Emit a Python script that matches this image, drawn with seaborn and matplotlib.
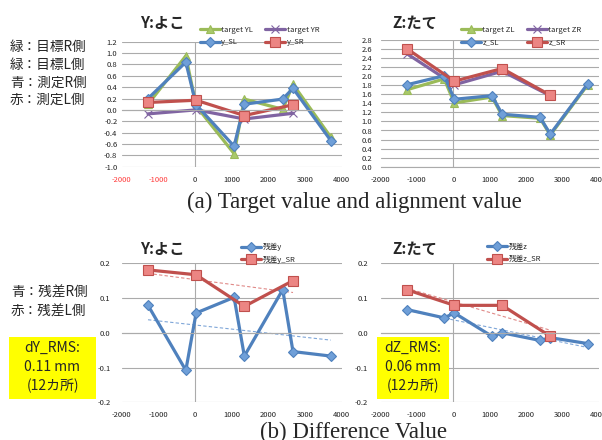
import matplotlib
matplotlib.use('Agg')
import matplotlib.pyplot as plt
from matplotlib.patches import Rectangle
import seaborn as sns

# positions along the rail (mm), L side = all 8 points, R side = every other one
x_L = [-1280, -250, 30, 1065, 1345, 2390, 2670, 3700]
x_R = [-1280, 30, 1345, 2670]

# Y (よこ) target / measured
target_YL = [0.10, 0.95, 0.07, -0.77, 0.19, 0.01, 0.45, -0.48]
y_SL = [0.20, 0.84, 0.09, -0.64, 0.10, 0.19, 0.38, -0.54]
target_YR = [-0.07, 0.00, -0.16, -0.06]
y_SR = [0.13, 0.17, -0.10, 0.09]

# Z (たて) target / measured
target_ZL = [1.70, 1.94, 1.41, 1.54, 1.13, 1.07, 0.70, 1.81]
z_SL = [1.81, 2.01, 1.49, 1.57, 1.16, 1.09, 0.72, 1.83]
target_ZR = [2.50, 1.81, 2.11, 1.57]
z_SR = [2.61, 1.89, 2.17, 1.58]

# residuals
res_y = [0.079, -0.108, 0.057, 0.102, -0.067, 0.124, -0.054, -0.067]
res_y_SR = [0.181, 0.167, 0.076, 0.150]
res_z = [0.067, 0.043, 0.057, -0.010, 0.000, -0.022, -0.014, -0.031]
res_z_SR = [0.124, 0.079, 0.079, -0.010]

x_ticks = [-2000, -1000, 0, 1000, 2000, 3000, 4000]
yticks_y = [-1.0, -0.8, -0.6, -0.4, -0.2, 0.0, 0.2, 0.4, 0.6, 0.8, 1.0, 1.2]
yticks_z = [0.0, 0.2, 0.4, 0.6, 0.8, 1.0, 1.2, 1.4, 1.6, 1.8, 2.0, 2.2, 2.4, 2.6, 2.8]
yticks_res = [-0.2, -0.1, 0.0, 0.1, 0.2]

GREEN = '#9bbb59'
PURPLE = '#8064a2'
BLUE = '#4f81bd'
RED = '#c0504d'
GRID = '#ababab'

sns.set_style('white')
plt.rcParams['font.family'] = ['Noto Sans CJK JP', 'DejaVu Sans']

W, H = 602, 440
fig = plt.figure(figsize=(W / 100, H / 100), dpi=100)


def fx(px):
    return px / W


def fy(py):
    return 1 - py / H


def make_axes(left, right, top, bottom):
    return fig.add_axes([fx(left), fy(bottom), fx(right) - fx(left), fy(top) - fy(bottom)])


def style(ax, ylim, yticks, fmt, ypad, xpad, red_neg=False):
    ax.set_xlim(-2000, 4000)
    ax.set_ylim(*ylim)
    ax.set_yticks(yticks)
    ax.set_yticklabels([fmt.format(v) for v in yticks])
    ax.set_xticks(x_ticks)
    ax.grid(axis='y', color=GRID, lw=0.8)
    ax.grid(axis='x', visible=False)
    ax.set_axisbelow(True)
    for s in ['top', 'right', 'left']:
        ax.spines[s].set_visible(False)
    ax.spines['bottom'].set_position(('data', 0))
    ax.spines['bottom'].set_color(GRID)
    ax.spines['bottom'].set_linewidth(0.8)
    ax.axvline(0, color=GRID, lw=0.8, zorder=1)
    ax.tick_params(axis='x', length=3, width=0.8, direction='out', color=GRID, labelbottom=False)
    ax.tick_params(axis='y', length=0, pad=ypad, labelsize=5.5, labelcolor='#222222')
    ax.set_xlabel('')
    ax.set_ylabel('')
    sec = ax.secondary_xaxis('bottom')
    sec.set_xticks(x_ticks, [str(t) for t in x_ticks])
    sec.tick_params(length=0, pad=xpad, labelsize=5.5, labelcolor='#222222')
    sec.spines['bottom'].set_visible(False)
    if red_neg:
        for t, lbl in zip(x_ticks, sec.get_xticklabels()):
            if t < 0:
                lbl.set_color('#ff3b3b')


def line(ax, x, y, color, marker, face, label, ms=6, lw=2.3):
    sns.lineplot(x=x, y=y, ax=ax, color=color, lw=lw, marker=marker, markersize=ms,
                 markerfacecolor=face, markeredgecolor=color, markeredgewidth=0.8,
                 label=label, legend=False)


def legend(ax, order, px, py, ncol):
    h, l = ax.get_legend_handles_labels()
    ax.legend([h[i] for i in order], [l[i] for i in order], ncol=ncol, loc='upper left',
              bbox_to_anchor=(fx(px), fy(py)), bbox_transform=fig.transFigure,
              frameon=False, fontsize=5.5, handlelength=2.6, handletextpad=0.2,
              columnspacing=1.6, borderpad=0, borderaxespad=0, labelspacing=0.55)


# (a) Y
ax1 = make_axes(121.6, 341.8, 41.7, 166.7)
line(ax1, x_L, target_YL, GREEN, '^', '#a9c96a', 'target YL')
line(ax1, x_R, target_YR, PURPLE, 'x', PURPLE, 'target YR')
line(ax1, x_L, y_SL, BLUE, 'D', '#6f9fd8', 'y_SL', ms=5)
line(ax1, x_R, y_SR, RED, 's', '#ec8583', 'y_SR', ms=6.5)
style(ax1, (-1.0, 1.2), yticks_y, '{:.1f}', 3, 7, red_neg=True)
legend(ax1, [0, 2, 1, 3], 200, 26, 2)

# (a) Z
ax2 = make_axes(380.6, 598.6, 40.0, 166.7)
line(ax2, x_L, target_ZL, GREEN, '^', '#a9c96a', 'target ZL')
line(ax2, x_R, target_ZR, PURPLE, 'x', PURPLE, 'target ZR')
line(ax2, x_L, z_SL, BLUE, 'D', '#6f9fd8', 'z_SL', ms=5)
line(ax2, x_R, z_SR, RED, 's', '#ec8583', 'z_SR', ms=6.5)
style(ax2, (0.0, 2.8), yticks_z, '{:.1f}', 6, 7)
legend(ax2, [0, 2, 1, 3], 461, 26, 2)

# (b) residual Y
ax3 = make_axes(121.6, 341.8, 263.3, 402.3)
sns.regplot(x=x_L, y=res_y, ax=ax3, scatter=False, ci=None, truncate=True,
            line_kws=dict(color='#7fa6d8', lw=0.8, ls=(0, (3, 2))))
sns.regplot(x=x_R, y=res_y_SR, ax=ax3, scatter=False, ci=None, truncate=True,
            line_kws=dict(color='#e08a88', lw=0.8, ls=(0, (3, 2))))
line(ax3, x_L, res_y, BLUE, 'D', '#6f9fd8', '残差y', ms=5)
line(ax3, x_R, res_y_SR, RED, 's', '#ec8583', '残差y_SR', ms=6.5)
style(ax3, (-0.2, 0.2), yticks_res, '{:.1f}', 8, 6)
legend(ax3, [0, 1], 241, 243, 1)

# (b) residual Z
ax4 = make_axes(380.6, 598.6, 263.3, 402.3)
sns.regplot(x=x_L, y=res_z, ax=ax4, scatter=False, ci=None, truncate=True,
            line_kws=dict(color='#7fa6d8', lw=0.8, ls=(0, (3, 2))))
sns.regplot(x=x_R, y=res_z_SR, ax=ax4, scatter=False, ci=None, truncate=True,
            line_kws=dict(color='#e08a88', lw=0.8, ls=(0, (3, 2))))
line(ax4, x_L, res_z, BLUE, 'D', '#6f9fd8', '残差z', ms=5)
line(ax4, x_R, res_z_SR, RED, 's', '#ec8583', '残差z_SR', ms=6.5)
style(ax4, (-0.2, 0.2), yticks_res, '{:.1f}', 9, 6)
legend(ax4, [0, 1], 487, 243, 1)

# titles
for cx, cy, t in [(162, 23, 'Y:よこ'), (415, 23, 'Z:たて'), (162, 249, 'Y:よこ'), (415, 249, 'Z:たて')]:
    fig.text(fx(cx), fy(cy), t, ha='center', va='center', fontsize=11, fontweight='bold')

# side notes
for i, t in enumerate(['緑：目標R側', '緑：目標L側', '青：測定R側', '赤：測定L側']):
    fig.text(fx(10), fy(47 + 17.7 * i), t, ha='left', va='center', fontsize=9.8)
for i, t in enumerate(['青：残差R側', '赤：残差L側']):
    fig.text(fx(11), fy(293 + 19 * i), t, ha='left', va='center', fontsize=9.8)

# RMS boxes
for left, right, cx, lines in [(9, 96, 52.5, ['dY_RMS:', '0.11 mm', '(12カ所)']),
                               (377, 449, 413, ['dZ_RMS:', '0.06 mm', '(12カ所)'])]:
    fig.patches.append(Rectangle((fx(left), fy(399)), fx(right) - fx(left), fy(337) - fy(399),
                                 transform=fig.transFigure, facecolor='#ffff00', edgecolor='none'))
    for j, t in enumerate(lines):
        fig.text(fx(cx), fy(348 + 19 * j), t, ha='center', va='center', fontsize=10)

# captions
fig.text(fx(354), fy(208), '(a) Target value and alignment value', ha='center', va='baseline',
         fontsize=16.5, family=['Liberation Serif'])
fig.text(fx(354), fy(438), '(b) Difference Value', ha='center', va='baseline',
         fontsize=16.5, family=['Liberation Serif'])

fig.savefig('out.png', dpi=100)
